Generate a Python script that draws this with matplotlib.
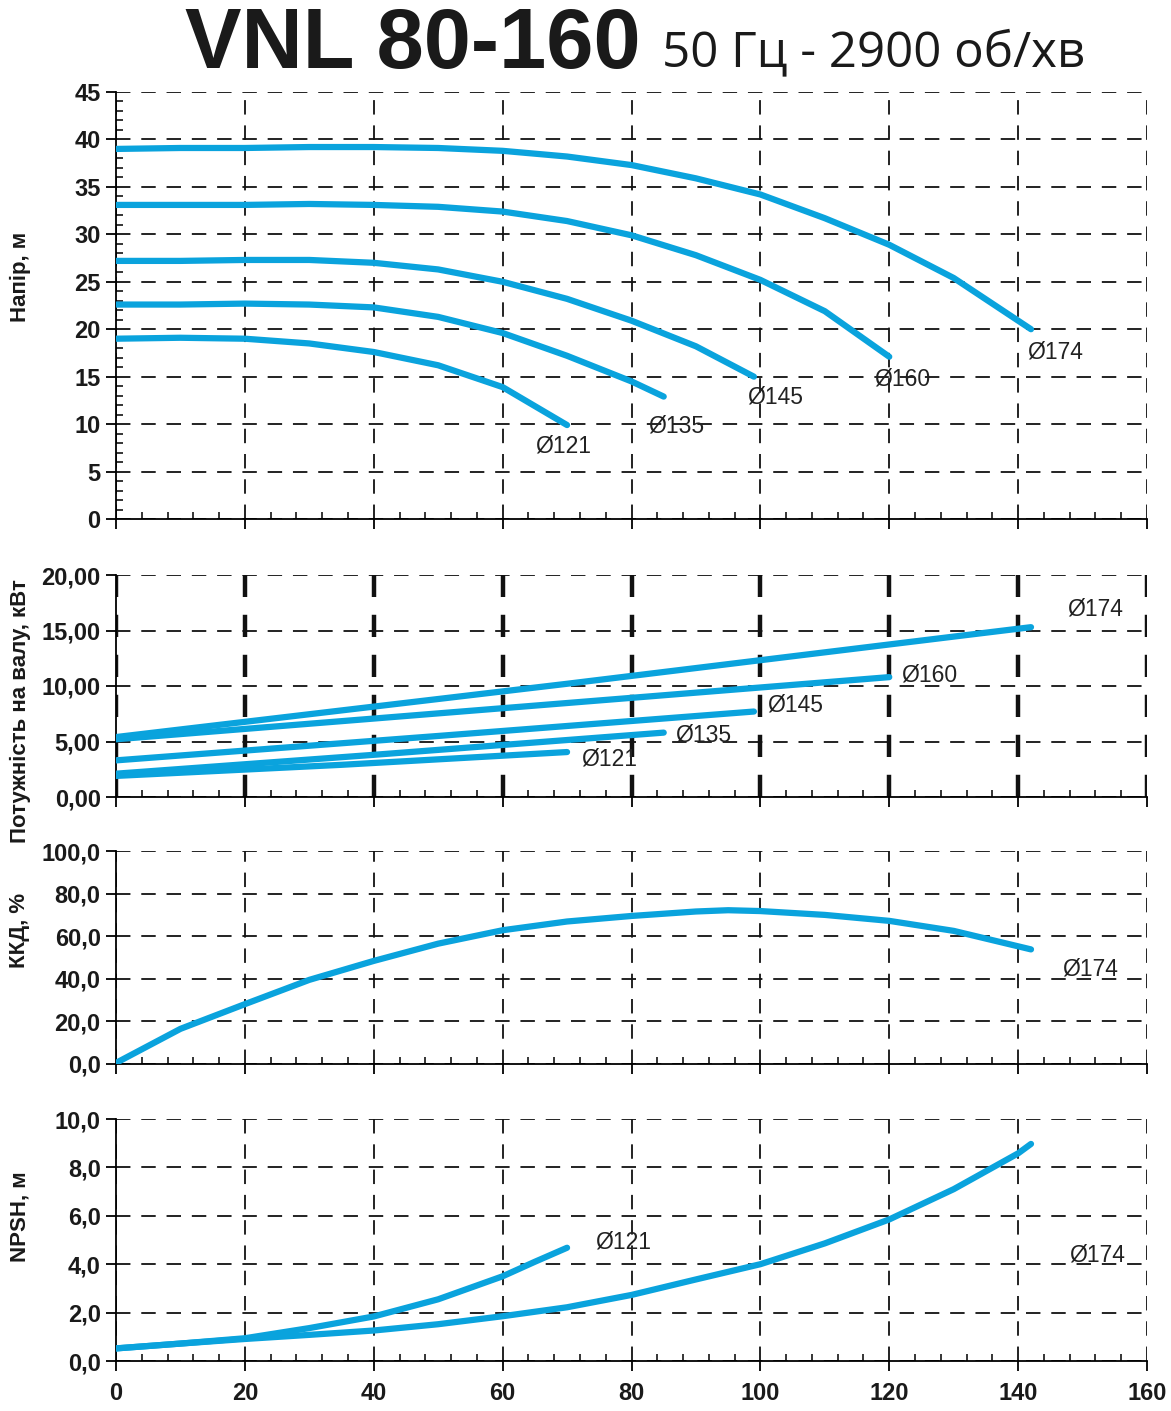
import matplotlib.pyplot as plt
from matplotlib.ticker import MultipleLocator, FuncFormatter

# ---------------- data ----------------
# head curves, m
h174_q = [0, 10, 20, 30, 40, 50, 60, 70, 80, 90, 100, 110, 120, 130, 142]
h174_h = [39.0, 39.1, 39.1, 39.2, 39.2, 39.1, 38.8, 38.2, 37.3, 35.9, 34.2, 31.7, 28.9, 25.4, 20.0]
h160_q = [0, 10, 20, 30, 40, 50, 60, 70, 80, 90, 100, 110, 120]
h160_h = [33.1, 33.1, 33.1, 33.2, 33.1, 32.9, 32.4, 31.4, 29.9, 27.8, 25.2, 21.9, 17.1]
h145_q = [0, 10, 20, 30, 40, 50, 60, 70, 80, 90, 99]
h145_h = [27.2, 27.2, 27.3, 27.3, 27.0, 26.3, 25.0, 23.2, 20.9, 18.2, 15.0]
h135_q = [0, 10, 20, 30, 40, 50, 60, 70, 80, 85]
h135_h = [22.6, 22.6, 22.7, 22.6, 22.3, 21.3, 19.6, 17.2, 14.5, 12.9]
h121_q = [0, 10, 20, 30, 40, 50, 60, 70]
h121_h = [19.0, 19.1, 19.0, 18.5, 17.6, 16.2, 13.9, 9.9]

# shaft power, kW
p174_q = [0, 70, 142]
p174_p = [5.4, 10.2, 15.3]
p160_q = [0, 60, 120]
p160_p = [5.2, 8.0, 10.8]
p145_q = [0, 50, 99]
p145_p = [3.3, 5.5, 7.7]
p135_q = [0, 40, 85]
p135_p = [2.1, 3.8, 5.8]
p121_q = [0, 35, 70]
p121_p = [1.9, 2.9, 4.05]

# efficiency, %
e174_q = [0, 10, 20, 30, 40, 50, 60, 70, 80, 90, 95, 100, 110, 120, 130, 142]
e174_e = [0.5, 16.5, 28.1, 39.5, 48.4, 56.5, 62.8, 66.9, 69.5, 71.6, 72.2, 71.8, 70.0, 67.2, 62.5, 53.8]

# NPSH, m
n174_q = [0, 10, 20, 30, 40, 50, 60, 70, 80, 90, 100, 110, 120, 130, 140, 142]
n174_n = [0.52, 0.72, 0.91, 1.08, 1.26, 1.52, 1.85, 2.22, 2.73, 3.37, 4.0, 4.86, 5.85, 7.1, 8.58, 8.97]
n121_q = [0, 10, 20, 30, 40, 50, 60, 65, 70]
n121_n = [0.52, 0.72, 0.94, 1.36, 1.84, 2.55, 3.5, 4.1, 4.68]

BLUE = '#0aa3dd'
W, H = 1171, 1411

fig = plt.figure(figsize=(W / 100, H / 100), dpi=100)
plt.rcParams['font.family'] = ['Liberation Sans', 'DejaVu Sans']


def px_axes(top, bottom, left=116, right=1147):
    return fig.add_axes([left / W, 1 - bottom / H, (right - left) / W, (bottom - top) / H])


def style(ax, ymax, ystep, yminor, fmt, xlabels=False, bold_v=False):
    ax.set_xlim(0, 160)
    ax.set_ylim(0, ymax)
    ax.xaxis.set_major_locator(MultipleLocator(20))
    ax.xaxis.set_minor_locator(MultipleLocator(4))
    ax.yaxis.set_major_locator(MultipleLocator(ystep))
    if yminor:
        ax.yaxis.set_minor_locator(MultipleLocator(yminor))
    ax.yaxis.set_major_formatter(FuncFormatter(lambda v, p: fmt.format(v).replace('.', ',')))
    ax.xaxis.set_major_formatter(FuncFormatter(lambda v, p: '%d' % v))
    for s in ['top', 'right']:
        ax.spines[s].set_visible(False)
    for s in ['left', 'bottom']:
        ax.spines[s].set_linewidth(1.3)
    ax.tick_params(which='major', direction='out', length=7, width=1.3,
                   labelsize=17, pad=4)
    ax.tick_params(which='minor', direction='in', length=5, width=1.1)
    ax.tick_params(axis='x', labelbottom=xlabels, pad=8)
    for lbl in ax.get_xticklabels() + ax.get_yticklabels():
        lbl.set_fontweight('bold')
        lbl.set_color('#1a1a1a')
    ax.grid(True, axis='y', which='major', color='#111111', lw=1.3, dashes=(8, 6))
    if bold_v:
        ax.grid(True, axis='x', which='major', color='#111111', lw=3.2, dashes=(5, 4))
    else:
        ax.grid(True, axis='x', which='major', color='#111111', lw=1.3, dashes=(8, 6))
    ax.set_axisbelow(True)


def curve(ax, x, y):
    ax.plot(x, y, color=BLUE, lw=4.5, solid_capstyle='round', solid_joinstyle='round', zorder=3)


lab = dict(fontsize=16.5, color='#222222', ha='center', va='center')

# ---- panel 1: head ----
ax1 = px_axes(92, 519)
style(ax1, 45, 5, 1, '{:.0f}')
for q, h in [(h174_q, h174_h), (h160_q, h160_h), (h145_q, h145_h), (h135_q, h135_h), (h121_q, h121_h)]:
    curve(ax1, q, h)
ax1.text(145.8, 17.6, 'Ø174', **lab)
ax1.text(122.0, 14.8, 'Ø160', **lab)
ax1.text(102.3, 12.9, 'Ø145', **lab)
ax1.text(86.9, 9.8, 'Ø135', **lab)
ax1.text(69.4, 7.7, 'Ø121', **lab)

# ---- panel 2: power ----
ax2 = px_axes(575, 797)
style(ax2, 20, 5, None, '{:.2f}', bold_v=True)
for q, p in [(p174_q, p174_p), (p160_q, p160_p), (p145_q, p145_p), (p135_q, p135_p), (p121_q, p121_p)]:
    curve(ax2, q, p)
ax2.text(152.0, 16.9, 'Ø174', **lab)
ax2.text(126.2, 11.0, 'Ø160', **lab)
ax2.text(105.4, 8.3, 'Ø145', **lab)
ax2.text(91.1, 5.6, 'Ø135', **lab)
ax2.text(76.6, 3.4, 'Ø121', **lab)

# ---- panel 3: efficiency ----
ax3 = px_axes(851, 1064)
style(ax3, 100, 20, None, '{:.1f}')
curve(ax3, e174_q, e174_e)
ax3.text(151.2, 44.5, 'Ø174', **lab)

# ---- panel 4: NPSH ----
ax4 = px_axes(1119, 1361)
style(ax4, 10, 2, None, '{:.1f}', xlabels=True)
curve(ax4, n174_q, n174_n)
curve(ax4, n121_q, n121_n)
ax4.text(78.7, 4.9, 'Ø121', **lab)
ax4.text(152.3, 4.4, 'Ø174', **lab)

# ---- y labels ----
ylab = dict(rotation=90, ha='center', va='center', fontsize=16, fontweight='bold', color='#1a1a1a')
fig.text(20 / W, 1 - 277 / H, 'Напір, м', **ylab)
fig.text(20 / W, 1 - 711 / H, 'Потужність на валу, кВт', **ylab)
fig.text(20 / W, 1 - 930 / H, 'ККД, %', **ylab)
fig.text(20 / W, 1 - 1217 / H, 'NPSH, м', **ylab)

# ---- title ----
fig.text(185 / W, 1 - 68 / H, 'VNL 80-160', fontsize=61, fontweight='bold',
         color='#1a1a1a', ha='left', va='baseline')
fig.text(662 / W, 1 - 66 / H, '50 Гц - 2900 об/хв', fontsize=35.5, family=['Open Sans', 'DejaVu Sans'],
         color='#1a1a1a', ha='left', va='baseline')

fig.savefig('out.png', dpi=100)
